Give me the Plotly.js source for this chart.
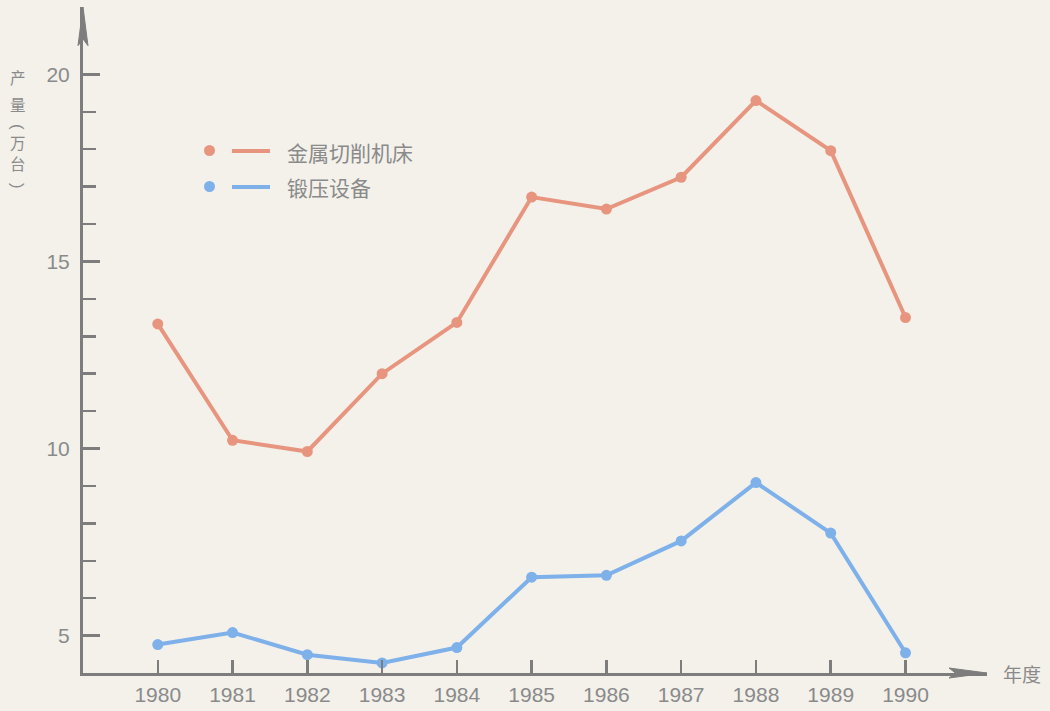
<!DOCTYPE html>
<html>
<head>
<meta charset="utf-8">
<script src="https://cdn.plot.ly/plotly-3.0.1.min.js"></script>
<style>
html,body{margin:0;padding:0;background:#F3F1EA;}
#chart{width:1050px;height:711px;}
</style>
</head>
<body>
<div id="chart"></div>
<script>
const years = [1980,1981,1982,1983,1984,1985,1986,1987,1988,1989,1990];
const metalCutting = [13.33,10.22,9.92,12.0,13.37,16.72,16.4,17.25,19.3,17.96,13.5];
const forging = [4.76,5.08,4.49,4.27,4.68,6.56,6.61,7.53,9.09,7.74,4.54];
const seriesNames = ['金属切削机床','锻压设备'];
const yMajorTicks = [5,10,15,20];
const yMinorTicks = [6,7,8,9,11,12,13,14,16,17,18,19];
const yTitleChars = ['产','量','(','万','台',')'];
const xTitle = '年度';

const red = '#E8957F';
const blue = '#7EB0EA';
const axisGrey = '#7d7d7d';
const textGrey = '#8a8a8a';
const cjk = '"Noto Sans CJK SC", "Noto Sans", sans-serif';
const latin = '"Liberation Sans", Arial, sans-serif';

const traces = [
  {x: years, y: metalCutting, name: seriesNames[0], mode: 'lines+markers',
   line: {color: red, width: 4}, marker: {color: red, size: 11}},
  {x: years, y: forging, name: seriesNames[1], mode: 'lines+markers',
   line: {color: blue, width: 4}, marker: {color: blue, size: 11}}
];

// pixel helpers for decoration placement (plot area 83..987 x 7..673)
const px = v => (v - 83) / 904;
const py = v => (673 - v) / 666;

// vertical y-axis title, one character per line; brackets rotated to vertical form
const titleYs = [77, 104, 127, 142, 163, 186];
const titleAnns = yTitleChars.map((c, i) => {
  const isParen = (c === '(' || c === ')');
  return {
    xref: 'paper', yref: 'paper', x: px(18), y: py(titleYs[i]), xanchor: 'center', yanchor: 'middle',
    text: c, showarrow: false, textangle: isParen ? 90 : 0,
    font: {family: isParen ? latin : cjk, size: isParen ? 17 : 15.5, color: textGrey}
  };
});

const layout = {
  width: 1050, height: 711,
  paper_bgcolor: '#F3F1EA', plot_bgcolor: '#F3F1EA',
  margin: {l: 83, r: 63, t: 7, b: 38},
  showlegend: false,
  xaxis: {
    range: [1979, 1991.09], showgrid: false, zeroline: false,
    showline: true, linecolor: axisGrey, linewidth: 3,
    tickmode: 'array', tickvals: years, ticktext: years.map(String),
    ticks: 'inside', ticklen: 13, tickwidth: 2.5, tickcolor: axisGrey,
    tickfont: {family: latin, size: 21, color: textGrey},
    ticklabelstandoff: 1
  },
  yaxis: {
    range: [4, 21.8], showgrid: false, zeroline: false,
    showline: true, linecolor: axisGrey, linewidth: 3,
    tickmode: 'array', tickvals: yMajorTicks, ticktext: yMajorTicks.map(String),
    ticks: 'inside', ticklen: 17, tickwidth: 2.5, tickcolor: axisGrey,
    tickfont: {family: latin, size: 21, color: textGrey},
    ticklabelstandoff: 6,
    minor: {tickmode: 'array', tickvals: yMinorTicks, ticks: 'inside', ticklen: 13, tickwidth: 2.5, tickcolor: axisGrey}
  },
  shapes: [
    {type: 'path', xref: 'paper', yref: 'paper', path: 'M -0.0055 0.942 L 0 1 L 0.0055 0.942 L 0 0.952 Z',
     fillcolor: axisGrey, line: {color: axisGrey, width: 1}},
    {type: 'path', xref: 'paper', yref: 'paper', path: 'M 0.958 -0.0075 L 1 0 L 0.958 0.0075 L 0.965 0 Z',
     fillcolor: axisGrey, line: {color: axisGrey, width: 1}},
    {type: 'circle', xref: 'paper', yref: 'paper', x0: px(204), x1: px(215), y0: py(156), y1: py(145),
     fillcolor: red, line: {width: 0}},
    {type: 'line', xref: 'paper', yref: 'paper', x0: px(232), x1: px(270), y0: py(151), y1: py(151),
     line: {color: red, width: 4}},
    {type: 'circle', xref: 'paper', yref: 'paper', x0: px(204), x1: px(215), y0: py(192), y1: py(181),
     fillcolor: blue, line: {width: 0}},
    {type: 'line', xref: 'paper', yref: 'paper', x0: px(232), x1: px(270), y0: py(187), y1: py(187),
     line: {color: blue, width: 4}}
  ],
  annotations: [
    {xref: 'paper', yref: 'paper', x: px(285), y: py(152), xanchor: 'left', yanchor: 'middle',
     text: seriesNames[0], showarrow: false, font: {family: cjk, size: 21, color: textGrey}},
    {xref: 'paper', yref: 'paper', x: px(285), y: py(187), xanchor: 'left', yanchor: 'middle',
     text: seriesNames[1], showarrow: false, font: {family: cjk, size: 21, color: textGrey}},
    {xref: 'paper', yref: 'paper', x: px(1001), y: 0, xanchor: 'left', yanchor: 'middle',
     text: xTitle, showarrow: false, font: {family: cjk, size: 19, color: textGrey}}
  ].concat(titleAnns)
};

Plotly.newPlot('chart', traces, layout, {displayModeBar: false, staticPlot: true});
</script>
</body>
</html>
